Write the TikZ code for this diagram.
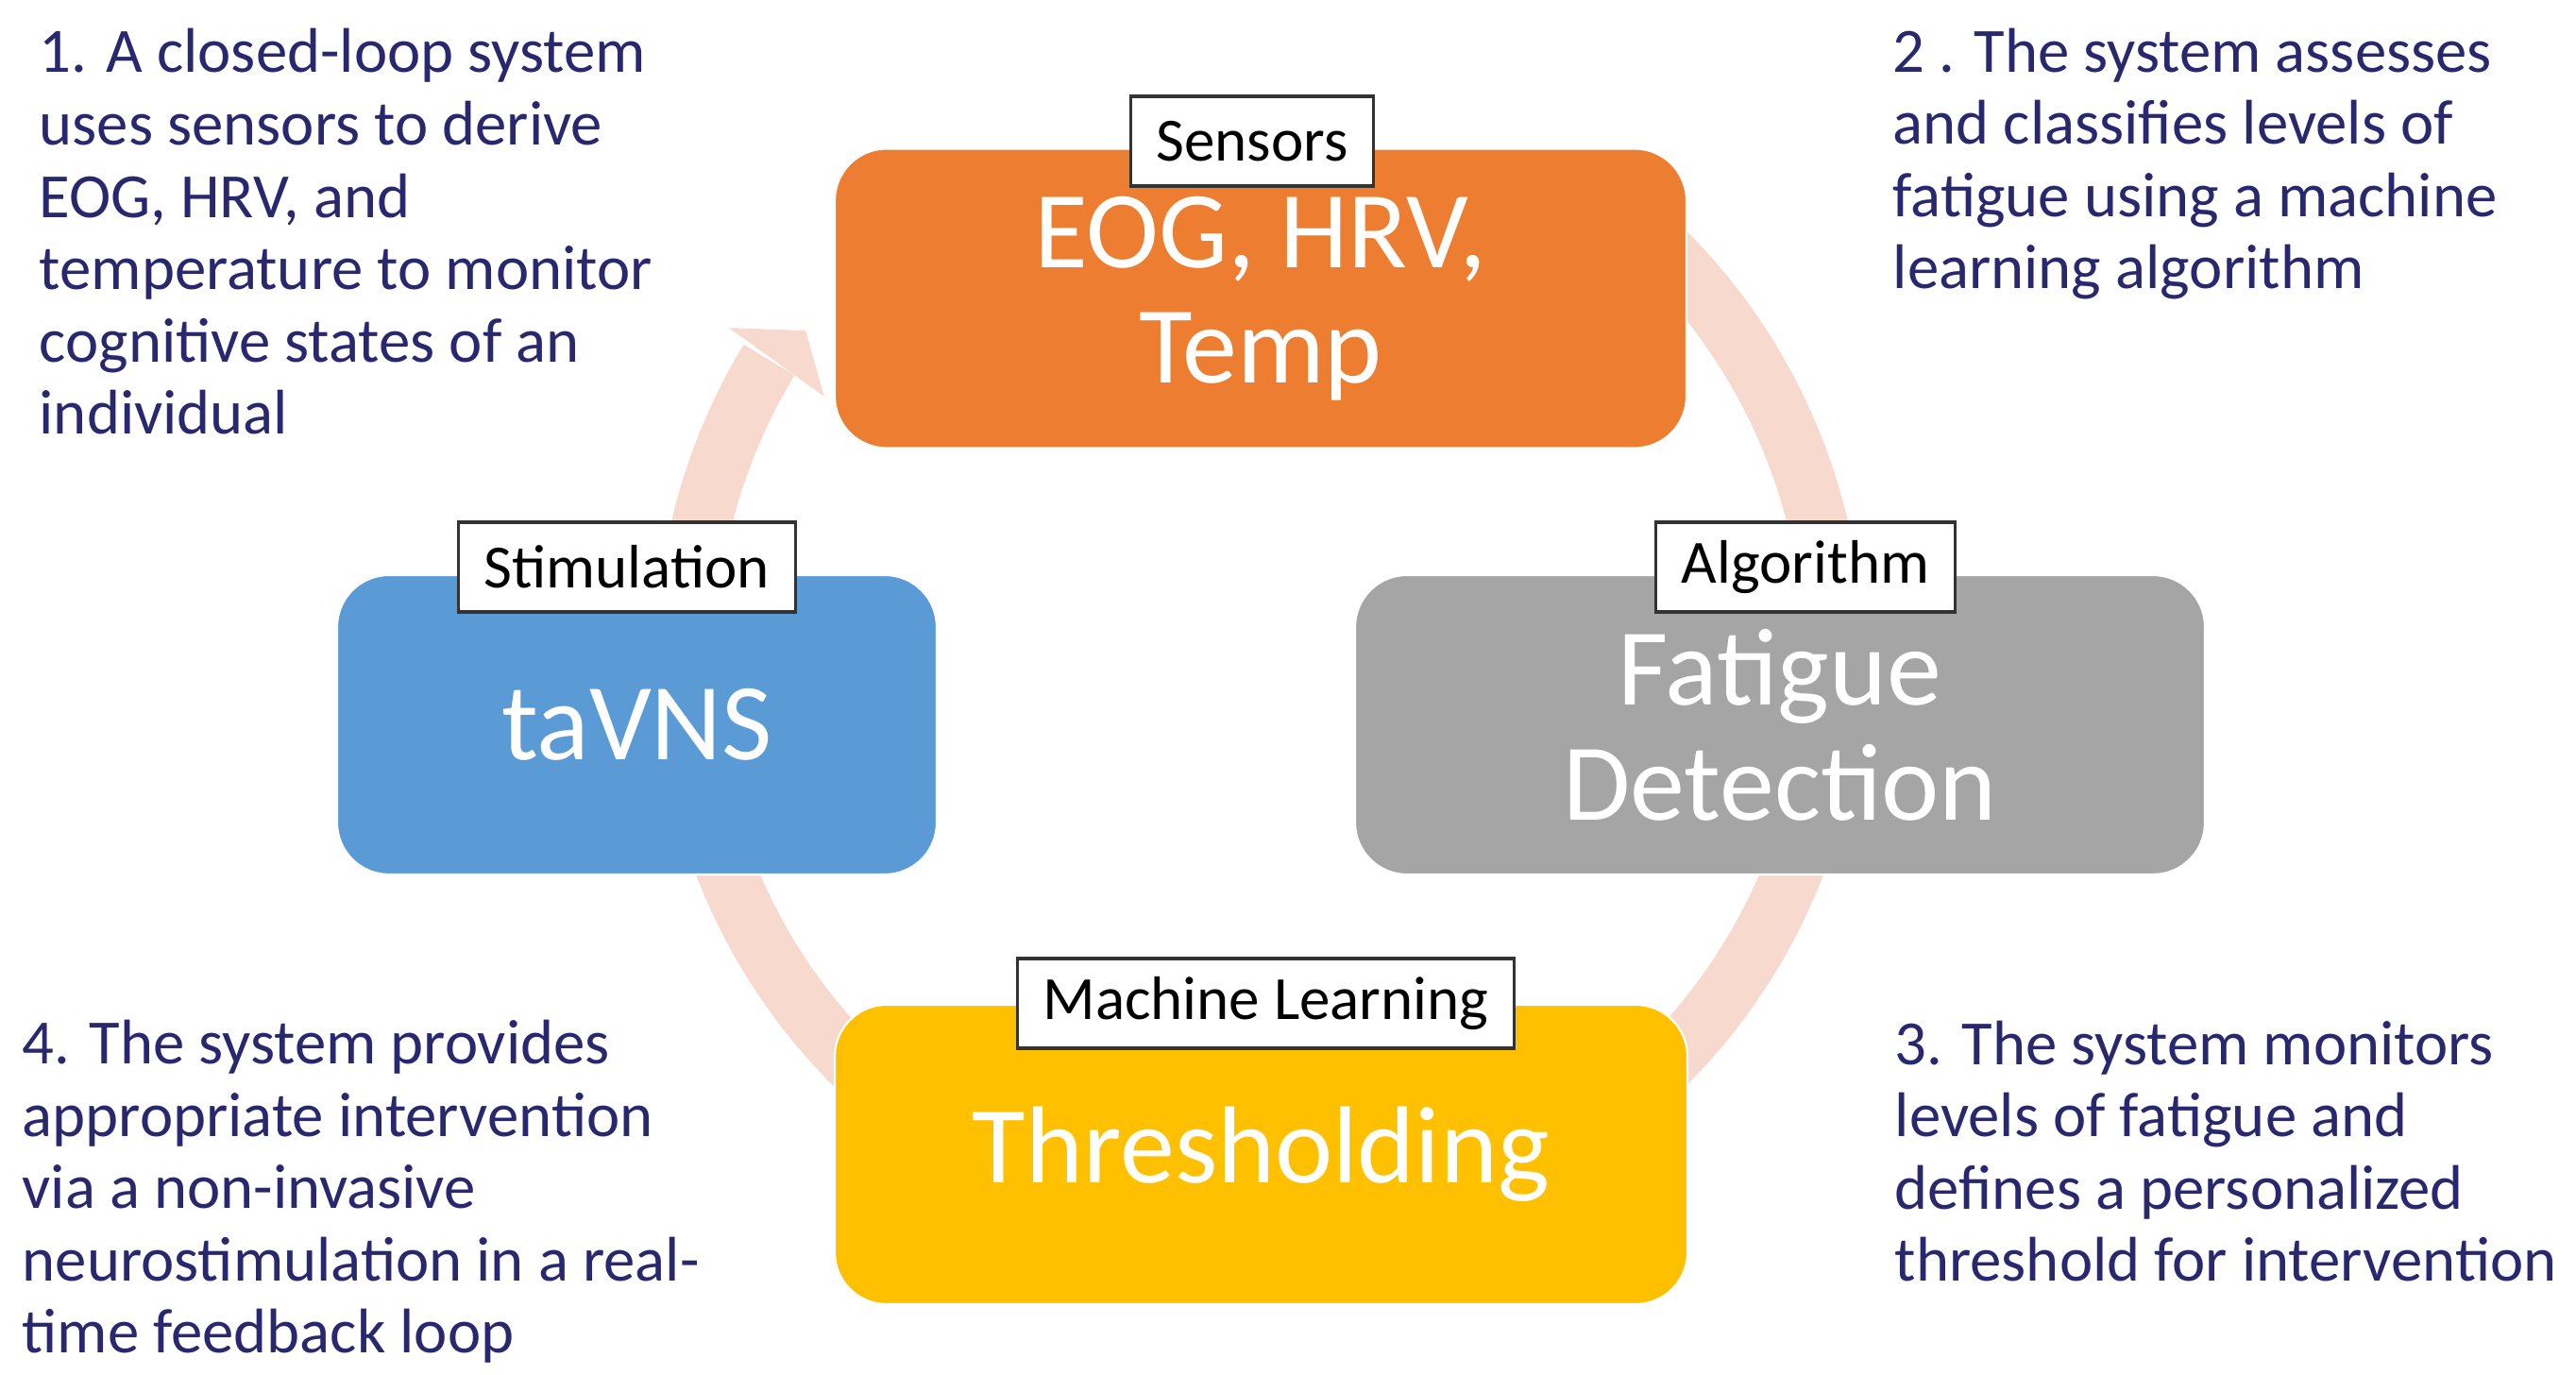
\documentclass[tikz,border=0pt]{standalone}
\usepackage{fontspec}
\setmainfont{Carlito}
\usepackage{tikz}

\definecolor{notenavy}{RGB}{41,40,110}
\definecolor{looppink}{RGB}{248,217,206}
\definecolor{sensorange}{RGB}{237,125,49}
\definecolor{stimblue}{RGB}{91,155,213}
\definecolor{alggray}{RGB}{165,165,165}
\definecolor{mlyellow}{RGB}{255,192,0}

\tikzset{
  stage/.style={rounded corners=0.55cm, draw=white, line width=0.6pt, text=white,
                align=center, font=\fontsize{33}{34.7}\selectfont, minimum height=3.17cm},
  tag/.style={draw=black!80, line width=0.9pt, fill=white, minimum height=0.95cm,
              inner xsep=0.27cm, font=\fontsize{18.5}{20}\selectfont},
  note/.style={text=notenavy, align=left, anchor=base west, inner sep=0pt,
               font=\fontsize{19}{21.8}\selectfont},
  band/.style={looppink, line width=0.63cm},
}

\begin{document}
\begin{tikzpicture}
        \useasboundingbox (0,0) rectangle (27.28,14.56);
        \coordinate (cyc) at (13.34,7.59);                                                  %loop centre

        \draw [band] ([shift={(50:6.08)}]cyc)  arc [start angle=50,  end angle=0,     radius=6.08];  %1->2
        \draw [band] ([shift={(-15:6.08)}]cyc) arc [start angle=-15, end angle=-60,   radius=6.08];  %2->3
        \draw [band] ([shift={(240:6.08)}]cyc) arc [start angle=240, end angle=195,   radius=6.08];  %3->4
        \draw [band] ([shift={(185:6.08)}]cyc) arc [start angle=185, end angle=148.7, radius=6.08];  %4->1
        \fill [looppink] ([shift={(148.1:6.62)}]cyc) -- ([shift={(144.2:5.93)}]cyc)
                         -- ([shift={(149.0:5.38)}]cyc) -- cycle;                        %head

        \node [stage, fill=sensorange, minimum width=9.02cm] (sens) at (13.35,11.40) {EOG, HRV,\\Temp};
        \node [stage, fill=stimblue,   minimum width=6.35cm] (stim) at (6.745,6.885) {taVNS};
        \node [stage, fill=alggray,    minimum width=9.00cm] (algo) at (18.85,6.885) {Fatigue\\Detection};
        \node [stage, fill=mlyellow,   minimum width=9.03cm] (thrs) at (13.355,2.335) {Thresholding};

        \node [tag] (sensTag) at (13.26,13.065) {Sensors};          %
        \node [tag] (stimTag) at (6.64,8.555)   {Stimulation};      %
        \node [tag] (algoTag) at (19.12,8.555)  {Algorithm};        %
        \node [tag] (thrsTag) at (13.405,3.935) {Machine Learning}; %

        % base = last line
        \node [note] (noteA) at (0.41,9.96)  {1. A closed-loop system\\uses sensors to derive\\EOG, HRV, and\\temperature to monitor\\cognitive states of an\\individual};
        \node [note] (noteB) at (20.04,11.50) {2 . The system assesses\\and classifies levels of\\fatigue using a machine\\learning algorithm};
        \node [note] (noteC) at (20.06,0.99)  {3. The system monitors\\levels of fatigue and\\defines a personalized\\threshold for intervention};
        \node [note] (noteD) at (0.23,0.23)   {4. The system provides\\appropriate intervention\\via a non-invasive\\neurostimulation in a real-\\time feedback loop};
\end{tikzpicture}
\end{document}
